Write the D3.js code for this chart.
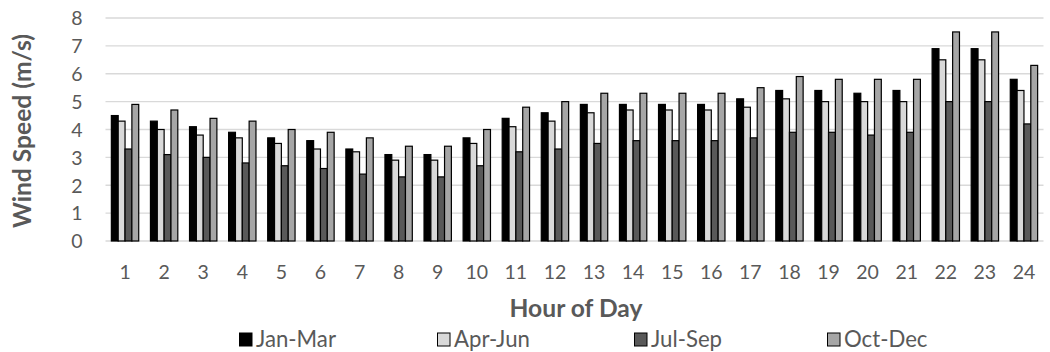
<!DOCTYPE html>
<html>
<head>
<meta charset="utf-8">
<script src="https://cdn.jsdelivr.net/npm/d3@7"></script>
<style>
  html, body { margin: 0; padding: 0; background: #fff; }
  svg { display: block; font-family: Lato, "Open Sans", sans-serif; }
</style>
</head>
<body>
<svg id="chart" width="1050" height="352"></svg>
<script>
const hours = ["1","2","3","4","5","6","7","8","9","10","11","12","13","14","15","16","17","18","19","20","21","22","23","24"];
const seriesNames = ["Jan-Mar", "Apr-Jun", "Jul-Sep", "Oct-Dec"];
const janMar = [4.5,4.3,4.1,3.9,3.7,3.6,3.3,3.1,3.1,3.7,4.4,4.6,4.9,4.9,4.9,4.9,5.1,5.4,5.4,5.3,5.4,6.9,6.9,5.8];
const aprJun = [4.3,4.0,3.8,3.7,3.5,3.3,3.2,2.9,2.9,3.5,4.1,4.3,4.6,4.7,4.7,4.7,4.8,5.1,5.0,5.0,5.0,6.5,6.5,5.4];
const julSep = [3.3,3.1,3.0,2.8,2.7,2.6,2.4,2.3,2.3,2.7,3.2,3.3,3.5,3.6,3.6,3.6,3.7,3.9,3.9,3.8,3.9,5.0,5.0,4.2];
const octDec = [4.9,4.7,4.4,4.3,4.0,3.9,3.7,3.4,3.4,4.0,4.8,5.0,5.3,5.3,5.3,5.3,5.5,5.9,5.8,5.8,5.8,7.5,7.5,6.3];
const yTicks = [0,1,2,3,4,5,6,7,8];
const colors = ["#000000", "#d9d9d9", "#595959", "#a6a6a6"];

const seriesValues = [janMar, aprJun, julSep, octDec];

const svg = d3.select("#chart");
const plotL = 105.5, plotR = 1043.5, plotT = 18, plotB = 241;

const x0 = d3.scaleBand().domain(hours).range([plotL, plotR]).padding(0);
const bw = x0.bandwidth();
const x1 = d3.scaleBand().domain(seriesNames).range([bw * 0.15, bw * 0.85]).padding(0);
const y = d3.scaleLinear().domain([0, 8]).range([plotB, plotT]);

// gridlines
const grid = svg.append("g").attr("class", "grid");
grid.selectAll("line").data(yTicks).join("line")
  .attr("x1", plotL).attr("x2", plotR)
  .attr("y1", d => y(d)).attr("y2", d => y(d))
  .attr("stroke", "#d9d9d9").attr("stroke-width", 1.3);

// y axis labels
const yAxis = d3.axisLeft(y).tickValues(yTicks).tickSize(0).tickPadding(0).tickFormat(d3.format("d"));
const yg = svg.append("g").attr("transform", `translate(${plotL - 23},0)`).call(yAxis);
yg.select(".domain").remove();
yg.selectAll("text").attr("font-size", 19.5).attr("fill", "#595959")
  .attr("font-family", "Lato, sans-serif").attr("dy", "0.35em");

// bars
const groups = svg.append("g").selectAll("g").data(hours).join("g")
  .attr("transform", d => `translate(${x0(d)},0)`);
groups.selectAll("rect")
  .data((h, i) => seriesNames.map((s, k) => ({ s, k, v: seriesValues[k][i] })))
  .join("rect")
  .attr("x", d => x1(d.s))
  .attr("width", x1.bandwidth())
  .attr("y", d => y(d.v))
  .attr("height", d => y(0) - y(d.v))
  .attr("fill", d => colors[d.k])
  .attr("stroke", "#000").attr("stroke-width", 1.2);

// x axis labels
const xAxis = d3.axisBottom(x0).tickSize(0).tickPadding(0);
const xg = svg.append("g").attr("transform", `translate(0,${plotB})`).call(xAxis);
xg.select(".domain").remove();
xg.selectAll("text").attr("font-size", 19.5).attr("fill", "#595959")
  .attr("font-family", "Lato, sans-serif").attr("y", 38).attr("dy", null);

// x axis title
function fitSize(textSel, target) {
  textSel.attr("font-size", 100);
  const w = textSel.node().getComputedTextLength();
  return 100 * target / w;
}
const xt = svg.append("text")
  .attr("x", (plotL + plotR) / 2 + 1.5).attr("y", 317)
  .attr("text-anchor", "middle").attr("font-weight", "bold")
  .attr("fill", "#595959").text("Hour of Day");
const titleSize = fitSize(xt, 133);
xt.attr("font-size", titleSize);

svg.append("text")
  .attr("transform", `translate(31,131) rotate(-90)`)
  .attr("text-anchor", "middle").attr("font-weight", "bold")
  .attr("font-size", titleSize)
  .attr("fill", "#595959").text("Wind Speed (m/s)");

// legend
const legendX = [239, 437, 634, 827];
const lg = svg.append("g").selectAll("g").data(seriesNames).join("g")
  .attr("transform", (d, i) => `translate(${legendX[i]},0)`);
lg.append("rect").attr("x", 0.5).attr("y", 333).attr("width", 12.5).attr("height", 13)
  .attr("fill", (d, i) => colors[i]).attr("stroke", "#000").attr("stroke-width", 1);
const lt = lg.append("text").attr("x", 17).attr("y", 347)
  .attr("fill", "#595959").text(d => d);
const legSize = fitSize(d3.select(lt.nodes()[0]), 80);
lt.attr("font-size", legSize);
</script>
</body>
</html>
